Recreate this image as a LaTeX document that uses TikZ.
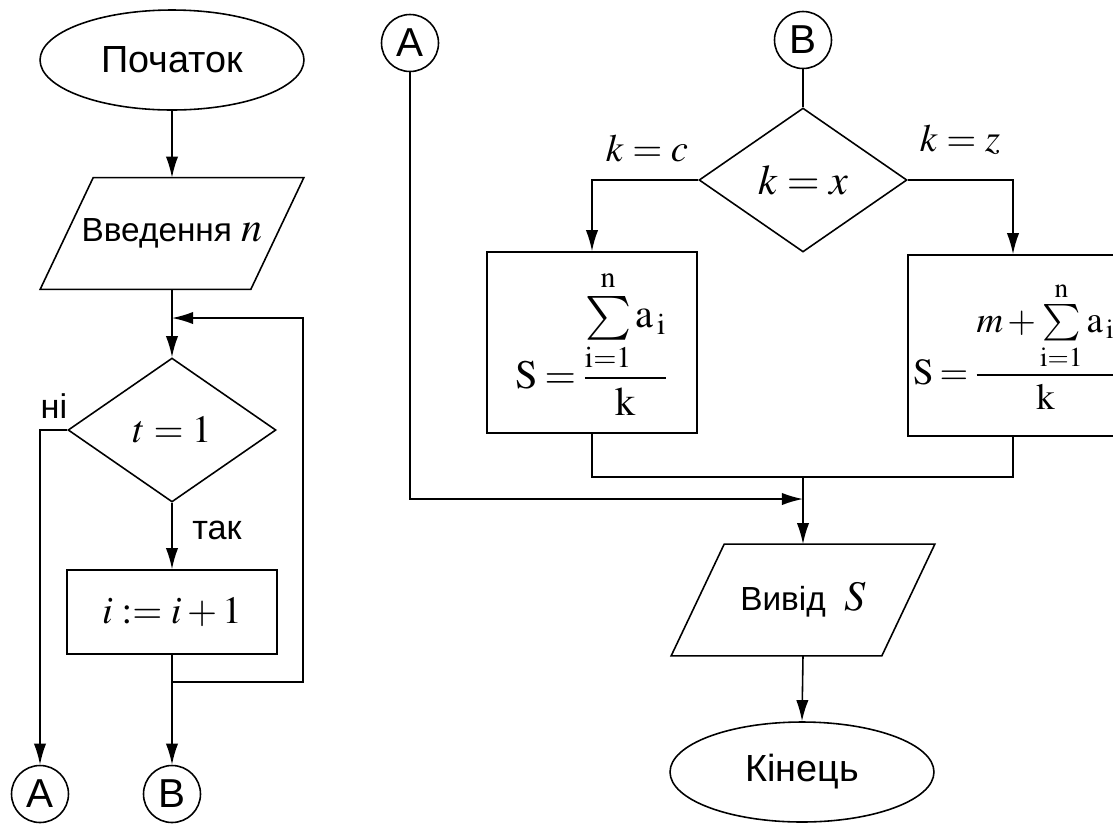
\documentclass[tikz,border=0pt]{standalone}
\usepackage{amsmath}
\usepackage{mathptmx}
\usepackage{exscale}
\usepackage[no-math]{fontspec}
\setmainfont{Liberation Sans}
\usetikzlibrary{shapes.geometric,arrows.meta,calc}

% parallelogram drawn around a (frameless) rectangle node, slanted by #2 units
\newcommand\slantbox[2]{%
  \draw[line] ($(#1.north west)+(#2,0)$) -- ($(#1.north east)+(#2,0)$)
    -- ($(#1.south east)+(-#2,0)$) -- ($(#1.south west)+(-#2,0)$) -- cycle;}
% summation of a_i for i from 1 to n, upright letters
\newcommand\sumai{\sum\limits_{\mathrm{i}=1}^{\mathrm{n}}\mathrm{a}_{\,\mathrm{i}}}
% tighter spacing round relations and binary operators
\newcommand\tightmath{\thickmuskip=3mu\relax\medmuskip=2mu\relax}

\begin{document}
\begin{tikzpicture}[x=0.02cm,y=-0.02cm,
  line/.style={line width=0.9pt},
  arr/.style={line width=0.9pt,-{Latex[length=12pt,width=7pt]}},
  term/.style={ellipse,draw,line width=0.9pt,minimum width=5.28cm,minimum height=2cm,
    inner sep=0pt,font=\fontsize{21.5}{25}\selectfont},
  iobox/.style={rectangle,minimum width=4.2cm,minimum height=2.22cm,inner sep=0pt,
    font=\fontsize{19}{23}\selectfont},
  proc/.style={rectangle,draw,line width=0.9pt,minimum width=4.2cm,inner sep=0pt,
    font=\fontsize{22}{26}\selectfont},
  formula/.style={font=\fontsize{23}{27}\selectfont},
  decis/.style={diamond,draw,line width=0.9pt,minimum width=4.16cm,minimum height=2.88cm,
    inner sep=0pt,font=\fontsize{22}{26}\selectfont},
  conn/.style={circle,draw,line width=0.9pt,minimum size=1.14cm,inner sep=0pt,
    font=\fontsize{23}{27}\selectfont},
  lbl/.style={inner sep=0pt,font=\fontsize{19.5}{23}\selectfont},
  mlbl/.style={inner sep=0pt,font=\fontsize{22}{26}\selectfont}]

\useasboundingbox (0,0) rectangle (1113,823);
\fill[white] (0,0) rectangle (1113,823);
\clip (0,0) rectangle (1113,823);

% ---- left part: input and loop ----
\node[term] (start) at (172,60) {Початок};
\node[iobox] (inp) at (172,233.5) {Введення \fontsize{24}{28}\selectfont$n$};
\slantbox{inp}{26.5}
\node[decis] (cond) at (172,430) {$t=1$};
\node[proc,minimum height=1.68cm] (incr) at (172,612) {$i:=i+1$};
\node[conn] (outA) at (40,794) {A};
\node[conn] (outB) at (172,794) {B};
\node[lbl] (no) at (54,406) {ні};
\node[lbl] (yes) at (217,530) {так};

\coordinate (loopin) at (172,318);
\coordinate (loopout) at (172,682);
\coordinate (loopcorner) at (303,318);

\draw[arr] (start.south) -- (inp.north);
\draw[arr] (inp.south) -- (cond.north);
\draw[arr] (cond.south) -- (incr.north);
\draw[arr] (cond.west) -| (outA.north);
\draw[arr] (incr.south) -- (outB.north);
\draw[arr] (loopout) -| (loopcorner) -- (loopin);

% ---- right part: branch on k and output ----
\node[conn] (inA) at (410,43) {A};
\node[conn] (inB) at (803,40) {B};
\node[decis,font=\fontsize{24}{28}\selectfont] (sel) at (803,180) {$k=x$};
\node[mlbl] (lc) at (647,148) {$k=c$};
\node[mlbl] (lz) at (960,140) {$k=z$};
\node[proc,formula,minimum height=3.62cm] (sumA) at (592,342.5)
  {$\tightmath\mathrm{S}=\dfrac{\sumai}{\mathrm{k}}$};
\node[proc,formula,font=\fontsize{21}{25}\selectfont,minimum height=3.62cm] (sumB) at (1013,345.5)
  {\makebox[4.0cm][l]{$\tightmath\mathrm{S}=\dfrac{m+\sumai}{\mathrm{k}}$}};
\node[iobox] (outp) at (803,600) {Вивід\ \ \fontsize{24}{28}\selectfont$S$};
\slantbox{outp}{26.5}
\node[term] (stop) at (802,772) {Кінець};

\coordinate (merge) at (803,477);
\coordinate (joinA) at (803,499);

\draw[line] (inB.south) -- (sel.north);
\draw[arr] (sel.west) -| (sumA.north);
\draw[arr] (sel.east) -| (sumB.north);
\draw[line] (sumA.south) |- (merge) -| (sumB.south);
\draw[arr] (merge) -- (outp.north);
\draw[arr] (inA.south) |- (joinA);
\draw[arr] (outp.south) -- (stop.north);
\end{tikzpicture}
\end{document}
